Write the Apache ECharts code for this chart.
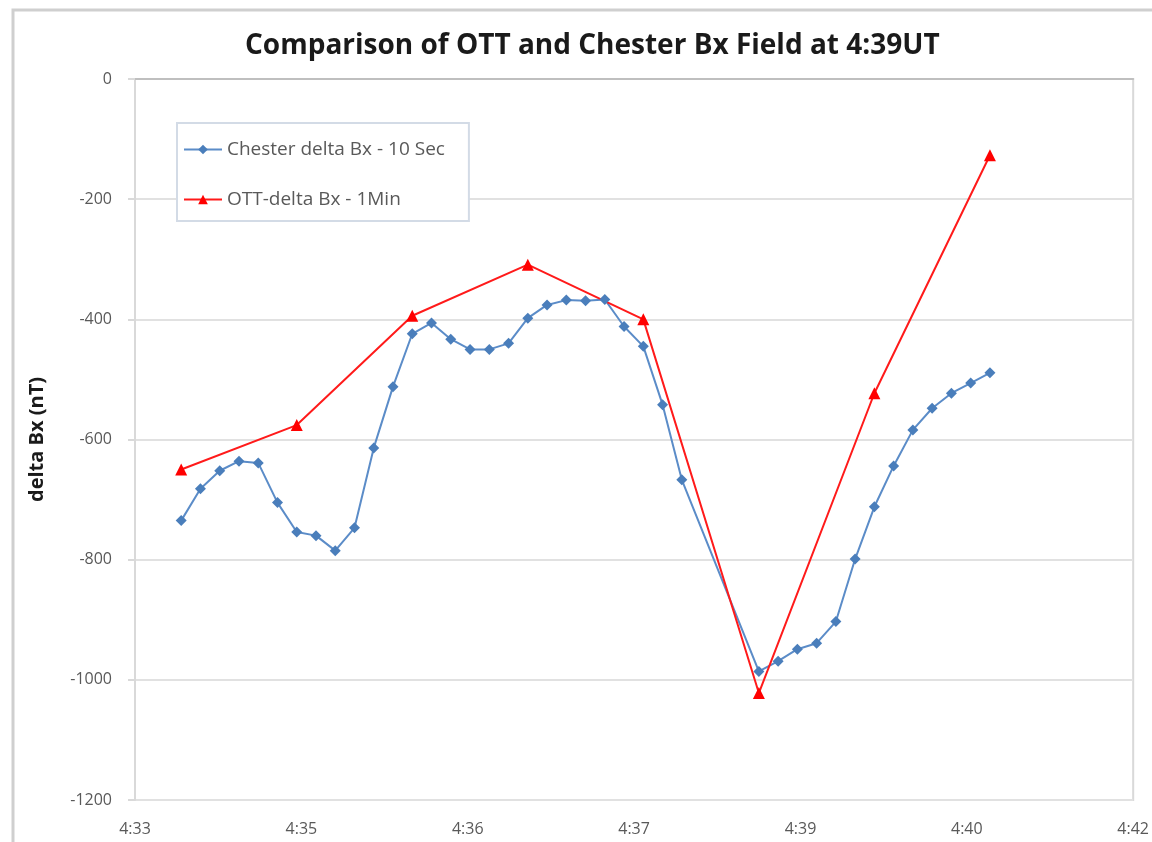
<!DOCTYPE html>
<html>
<head>
<meta charset="utf-8">
<title>Comparison of OTT and Chester Bx Field at 4:39UT</title>
<script src="https://cdn.jsdelivr.net/npm/echarts@6/dist/echarts.min.js"></script>
<style>
html, body { margin: 0; padding: 0; background: #fff; }
#chart { width: 1152px; height: 842px; }
</style>
</head>
<body>
<div id="chart"></div>
<script>
// Chester, 10 sec samples (4:38:30 - 4:38:50 have no value)
var chesterTimes = [
    '4:34:00', '4:34:10', '4:34:20', '4:34:30', '4:34:40', '4:34:50',
    '4:35:00', '4:35:10', '4:35:20', '4:35:30', '4:35:40', '4:35:50',
    '4:36:00', '4:36:10', '4:36:20', '4:36:30', '4:36:40', '4:36:50',
    '4:37:00', '4:37:10', '4:37:20', '4:37:30', '4:37:40', '4:37:50',
    '4:38:00', '4:38:10', '4:38:20',
    '4:39:00', '4:39:10', '4:39:20', '4:39:30', '4:39:40', '4:39:50',
    '4:40:00', '4:40:10', '4:40:20', '4:40:30', '4:40:40', '4:40:50',
    '4:41:00'
];
var chesterValues = [
    -735, -682, -652, -636, -639, -705,
    -754, -760, -785, -747, -614, -512,
    -424, -406, -433, -450, -450, -440,
    -398, -376, -368, -369, -367, -412,
    -445, -542, -667,
    -986, -969, -949, -939, -903, -799,
    -712, -644, -584, -548, -523, -506,
    -489
];
// OTT, 1 min samples
var ottTimes = ['4:34:00', '4:35:00', '4:36:00', '4:37:00', '4:38:00', '4:39:00', '4:40:00', '4:41:00'];
var ottValues = [-650, -576, -394, -309, -400, -1022, -523, -127];

// excel day-fraction axis 0.190 .. 0.196 step 0.001, shown as h:mm
var xTickLabels = ['4:33', '4:35', '4:36', '4:37', '4:39', '4:40', '4:42'];
var xMin = 16416;     // 0.190 day in seconds
var xStep = 86.4;     // 0.001 day in seconds

function toSec(s) {
    var p = s.split(':');
    return (+p[0]) * 3600 + (+p[1]) * 60 + (+p[2]);
}
function pairs(times, values) {
    var out = [];
    for (var i = 0; i < times.length; i++) {
        out.push([toSec(times[i]), values[i]]);
    }
    return out;
}

var font = '"Open Sans", "Liberation Sans", sans-serif';
var myChart = echarts.init(document.getElementById('chart'));
var option = {
    backgroundColor: '#fff',
    animation: false,
    title: {
        text: 'Comparison of OTT and Chester Bx Field at 4:39UT',
        left: 240,
        top: 27,
        textStyle: {fontFamily: font, fontSize: 28, fontWeight: 'bold', color: '#1a1a1a'}
    },
    graphic: [{
        type: 'rect',
        z: -1,
        shape: {x: 13, y: 10, width: 1200, height: 900},
        style: {fill: 'none', stroke: '#cfcfcf', lineWidth: 3}
    }],
    legend: {
        orient: 'vertical',
        left: 177,
        top: 123,
        padding: [17, 24, 12, 6],
        itemGap: 31,
        itemWidth: 38,
        itemHeight: 12,
        borderColor: '#d3dbe6',
        borderWidth: 2,
        backgroundColor: '#fff',
        textStyle: {fontFamily: font, fontSize: 19, color: '#595959'},
        data: ['Chester delta Bx - 10 Sec', 'OTT-delta Bx - 1Min']
    },
    grid: {
        left: 135,
        right: 15,
        top: 79,
        bottom: 42,
        show: true,
        borderColor: '#d9d9d9',
        borderWidth: 2
    },
    xAxis: {
        type: 'value',
        min: xMin,
        max: xMin + xStep * (xTickLabels.length - 1),
        interval: xStep,
        axisLine: {lineStyle: {color: '#bfbfbf', width: 2}},
        axisTick: {show: false},
        splitLine: {show: false},
        axisLabel: {
            margin: 21,
            fontFamily: font,
            fontSize: 16,
            color: '#595959',
            formatter: function (v) {
                return xTickLabels[Math.round((v - xMin) / xStep)];
            }
        }
    },
    yAxis: {
        type: 'value',
        min: -1200,
        max: 0,
        interval: 200,
        name: 'delta Bx (nT)',
        nameLocation: 'middle',
        nameGap: 88,
        nameTextStyle: {fontFamily: font, fontSize: 20, fontWeight: 'bold', color: '#1a1a1a'},
        axisLine: {show: true, lineStyle: {color: '#d9d9d9', width: 2}},
        axisTick: {show: true, length: 7, lineStyle: {color: '#d9d9d9', width: 2}},
        splitLine: {lineStyle: {color: '#e1e1e1', width: 2}},
        axisLabel: {
            margin: 23,
            fontFamily: font,
            fontSize: 16,
            color: '#595959',
            formatter: function (v) {
                return String(v);
            }
        }
    },
    series: [{
        name: 'Chester delta Bx - 10 Sec',
        type: 'line',
        data: pairs(chesterTimes, chesterValues),
        symbol: 'diamond',
        symbolSize: 11,
        showAllSymbol: true,
        itemStyle: {color: '#4a7ebb'},
        lineStyle: {color: '#5b8cc8', width: 2}
    }, {
        name: 'OTT-delta Bx - 1Min',
        type: 'line',
        data: pairs(ottTimes, ottValues),
        symbol: 'triangle',
        symbolSize: 12,
        showAllSymbol: true,
        itemStyle: {color: '#ff0000'},
        lineStyle: {color: '#ff1a1a', width: 2}
    }]
};
myChart.setOption(option);
</script>
</body>
</html>
